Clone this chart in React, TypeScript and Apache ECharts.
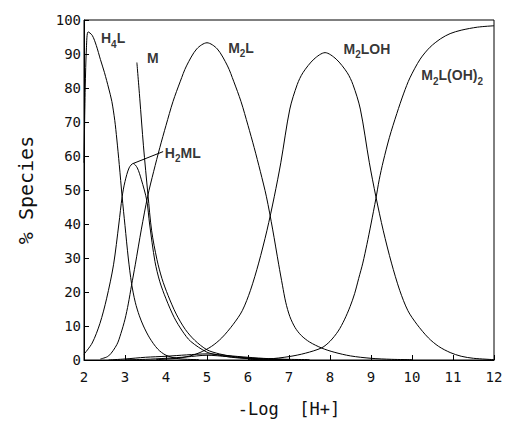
import React, { useEffect, useRef } from "react";
import * as echarts from "echarts";

type Pt = [number, number];

const xRange = { min: 2, max: 12, step: 1 };
const yRange = { min: 0, max: 100, step: 10 };

const H4L: Pt[] = [
  [2.0, 58], [2.03, 80], [2.06, 92], [2.1, 96.5], [2.2, 95.5], [2.3, 92.5], [2.4, 88.4],
  [2.5, 84.5], [2.6, 80], [2.68, 76], [2.75, 70.5], [2.8, 65], [2.86, 57.5], [2.93, 48],
  [3.0, 39.5], [3.08, 30], [3.16, 22.5], [3.25, 17], [3.35, 13], [3.45, 10], [3.6, 6.5],
  [3.8, 3.2], [4.0, 1.4], [4.3, 0.4], [4.8, 0.1],
];

const H2ML: Pt[] = [
  [2.0, 1.7], [2.2, 5], [2.39, 10.8], [2.55, 18], [2.72, 28], [2.85, 40], [2.93, 48],
  [3.0, 52.5], [3.1, 56.5], [3.2, 57.8], [3.3, 56.5], [3.4, 53], [3.53, 47], [3.6, 40],
  [3.73, 29], [3.85, 23], [4.0, 18], [4.2, 12.5], [4.4, 8.5], [4.6, 5.5], [5.0, 2.3],
  [5.3, 1.4], [5.6, 0.8], [6.0, 0.4], [6.5, 0.15], [7.0, 0.05],
];

const M: Pt[] = [
  [3.29, 87.5], [3.36, 77], [3.45, 63], [3.56, 48.6], [3.65, 38], [3.78, 29.5],
  [3.9, 24], [4.05, 19], [4.25, 13.5], [4.47, 9], [4.7, 5.8], [5.0, 3], [5.3, 1.8],
  [5.6, 1.1], [6.0, 0.6], [6.5, 0.3], [7.0, 0.1],
];

const M2L: Pt[] = [
  [2.4, 0.3], [2.6, 1.2], [2.8, 4.5], [2.9, 7.8], [3.0, 12], [3.08, 16.5], [3.16, 22],
  [3.25, 28], [3.4, 38.5], [3.55, 48], [3.7, 55.5], [3.85, 62.5], [4.0, 69], [4.17, 76],
  [4.35, 82], [4.5, 86.5], [4.75, 91.5], [5.0, 93.3], [5.25, 91.5], [5.5, 86.5],
  [5.65, 82], [5.83, 76], [6.0, 69], [6.15, 62.5], [6.3, 55.5], [6.45, 48], [6.6, 38.5],
  [6.75, 28], [6.84, 22], [6.92, 17], [7.02, 12.8], [7.15, 9.5], [7.3, 7.2], [7.5, 5.3],
  [7.8, 3.5], [8.1, 2.3], [8.5, 1.2], [9.0, 0.5], [9.5, 0.2], [10.0, 0.1],
];

const M2LOH: Pt[] = [
  [3.76, 0.1], [4.26, 0.5], [4.56, 1.1], [4.83, 2.2], [5.11, 4], [5.36, 6.5], [5.64, 10.5],
  [5.86, 14.5], [6.06, 20.5], [6.26, 28.5], [6.46, 38], [6.64, 48], [6.8, 58], [7.02, 73.8],
  [7.2, 81], [7.34, 84.5], [7.61, 88.5], [7.88, 90.4], [8.15, 88.5], [8.42, 84.5],
  [8.56, 81], [8.74, 73.8], [8.96, 58], [9.12, 48], [9.3, 38], [9.5, 28.5], [9.7, 20.5],
  [9.9, 14.5], [10.12, 10.5], [10.4, 6.5], [10.65, 4], [10.93, 2.2], [11.2, 1.1],
  [11.5, 0.5], [12.0, 0.1],
];

const M2LOH2: Pt[] = [
  [6.0, 0.1], [6.5, 0.3], [7.0, 1], [7.4, 2], [7.8, 3.6], [8.0, 5.5], [8.2, 8.5],
  [8.35, 11.8], [8.49, 15.7], [8.6, 19.5], [8.7, 24], [8.8, 28.5], [8.9, 34], [9.0, 40],
  [9.12, 47.5], [9.2, 53], [9.3, 58.5], [9.45, 65.5], [9.63, 72.5], [9.8, 78.5],
  [9.95, 83], [10.2, 88.5], [10.44, 92], [10.7, 94.5], [10.93, 96], [11.2, 97],
  [11.6, 97.9], [12.0, 98.3],
];

const MINOR_A: Pt[] = [
  [2.6, 0], [3.0, 0.3], [3.5, 0.8], [4.0, 1.1], [4.5, 1.5], [5.0, 1.8], [5.5, 1.3],
  [6.0, 0.8], [6.5, 0.4], [7.0, 0.2], [7.5, 0.1],
];

const MINOR_B: Pt[] = [
  [3.0, 0.05], [3.5, 0.2], [4.0, 0.5], [4.5, 0.9], [5.0, 1.4], [5.5, 1.0], [6.0, 0.5],
  [6.5, 0.25], [7.0, 0.1],
];

const labelNames = ["H4L", "M", "H2ML", "M2L", "M2LOH", "M2L(OH)2"];
const labelX = [2.71, 3.68, 4.41, 5.83, 8.9, 10.98];
const labelY = [94.1, 88.7, 60.4, 91.2, 90.9, 83.1];

const leader: Pt[] = [[3.2, 57.8], [3.93, 61.3]];

const richText: Record<string, string> = {
  H4L: "{b|H}{s|4}{b|L}",
  M: "{b|M}",
  H2ML: "{b|H}{s|2}{b|ML}",
  M2L: "{b|M}{s|2}{b|L}",
  M2LOH: "{b|M}{s|2}{b|LOH}",
  "M2L(OH)2": "{b|M}{s|2}{b|L(OH)}{s|2}",
};

const mono = "DejaVu Sans Mono";
const ink = "#111";

function curve(name: string, data: Pt[]) {
  return {
    name,
    type: "line",
    data,
    symbol: "none",
    showSymbol: false,
    smooth: 0.3,
    lineStyle: { color: "#000", width: 1 },
    silent: true,
  };
}

export default function App() {
  const ref = useRef<HTMLDivElement>(null);
  useEffect(() => {
    document.body.style.margin = "0";
    const chart = echarts.init(ref.current!, null, { renderer: "svg" });
    chart.setOption({
      animation: false,
      grid: {
        left: 84,
        right: 12,
        top: 20,
        bottom: 58,
        show: true,
        borderColor: "#000",
        borderWidth: 1,
      },
      xAxis: {
        type: "value",
        min: xRange.min,
        max: xRange.max,
        interval: xRange.step,
        axisLine: { lineStyle: { color: "#000", width: 1 } },
        axisTick: { inside: true, length: 5, lineStyle: { color: "#000" } },
        axisLabel: { margin: 10, fontFamily: mono, fontSize: 14, color: ink },
        splitLine: { show: false },
        name: "-Log  [H+]",
        nameLocation: "middle",
        nameGap: 40,
        nameTextStyle: { fontFamily: mono, fontSize: 17, color: ink },
      },
      yAxis: {
        type: "value",
        min: yRange.min,
        max: yRange.max,
        interval: yRange.step,
        axisLine: { lineStyle: { color: "#000", width: 1 } },
        axisTick: { inside: true, length: 5, lineStyle: { color: "#000" } },
        axisLabel: { margin: 3, fontFamily: mono, fontSize: 14, color: ink },
        splitLine: { show: false },
        name: "% Species",
        nameLocation: "middle",
        nameGap: 48,
        nameTextStyle: { fontFamily: mono, fontSize: 20, color: ink },
      },
      series: [
        curve("H4L", H4L),
        curve("H2ML", H2ML),
        curve("M", M),
        curve("M2L", M2L),
        curve("M2LOH", M2LOH),
        curve("M2L(OH)2", M2LOH2),
        curve("minorA", MINOR_A),
        curve("minorB", MINOR_B),
        {
          name: "leader",
          type: "line",
          data: leader,
          symbol: "none",
          smooth: false,
          lineStyle: { color: "#000", width: 1 },
          silent: true,
        },
        {
          name: "labels",
          type: "scatter",
          symbolSize: 0,
          silent: true,
          data: labelNames.map((n, i) => ({ name: n, value: [labelX[i], labelY[i]] })),
          label: {
            show: true,
            position: "inside",
            formatter: (p: any) => richText[p.name],
            rich: {
              b: {
                fontFamily: "Liberation Sans",
                fontWeight: "bold",
                fontSize: 14,
                lineHeight: 14,
                color: "#000",
                verticalAlign: "top",
              },
              s: {
                fontFamily: "Liberation Sans",
                fontWeight: "bold",
                fontSize: 10,
                lineHeight: 18,
                color: "#000",
                verticalAlign: "bottom",
              },
            },
          },
        },
      ],
    });
    return () => chart.dispose();
  }, []);
  return <div ref={ref} style={{ width: 506, height: 422 }} />;
}
